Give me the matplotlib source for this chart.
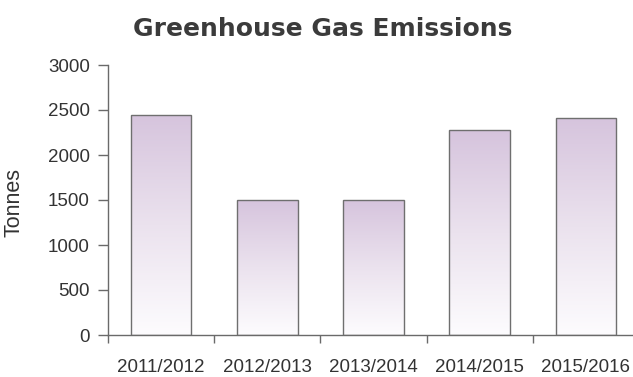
import numpy as np
import matplotlib
matplotlib.use("Agg")
from matplotlib import pyplot as plt
from matplotlib.colors import LinearSegmentedColormap

years = ["2011/2012", "2012/2013", "2013/2014", "2014/2015", "2015/2016"]
tonnes = [2450, 1505, 1505, 2275, 2410]
y_ticks = [0, 500, 1000, 1500, 2000, 2500, 3000]

plt.rcParams['font.family'] = ['Liberation Sans', 'DejaVu Sans']

fig = plt.figure(figsize=(6.33, 3.77), dpi=100)
ax = fig.add_axes([108 / 633, 42 / 377, 531 / 633, 270 / 377])

x = np.arange(len(years))
bars = ax.bar(x, tonnes, width=0.57, color="none", edgecolor="#6f6f6f", linewidth=1.0, zorder=3)

# vertical fade from lavender at the top of each bar to white at the base
fade = LinearSegmentedColormap.from_list("fade", ["#fdfcfe", "#ebe2ee", "#d6c4dd"])
grad = np.linspace(0, 1, 256).reshape(-1, 1)
for b in bars:
    x0, w, h = b.get_x(), b.get_width(), b.get_height()
    im = ax.imshow(grad, cmap=fade, aspect="auto", origin="lower",
                   extent=[x0, x0 + w, 0, h], zorder=2, interpolation="bicubic")
    im.set_clip_path(b)

ax.set_xlim(-0.5, len(years) - 0.5)
ax.set_ylim(0, 3000)
ax.set_yticks(y_ticks)
ax.set_xticks(np.arange(len(years) + 1) - 0.5)
ax.set_xticklabels([])
ax.set_xticks(x, minor=True)
ax.set_xticklabels(years, minor=True)

for s in ["top", "right"]:
    ax.spines[s].set_visible(False)
for s in ["left", "bottom"]:
    ax.spines[s].set_color("#6a6a6a")
    ax.spines[s].set_linewidth(1.0)

ax.tick_params(axis="y", length=7.5, width=1.0, color="#6a6a6a", pad=5.5,
               labelsize=13.5, labelcolor="#333333")
ax.tick_params(axis="x", which="major", length=6, width=1.0, color="#6a6a6a")
ax.tick_params(axis="x", which="minor", length=0, pad=17,
               labelsize=13.5, labelcolor="#333333")

ax.set_ylabel("Tonnes", fontsize=15.5, color="#333333")
ax.yaxis.set_label_coords(-0.158, 0.49)

fig.text(323 / 633, 1 - 29 / 377, "Greenhouse Gas Emissions", ha="center", va="center",
         fontsize=18, fontweight="bold", color="#3b3b3b", family=["DejaVu Sans"])

fig.savefig("out.png", dpi=100)
